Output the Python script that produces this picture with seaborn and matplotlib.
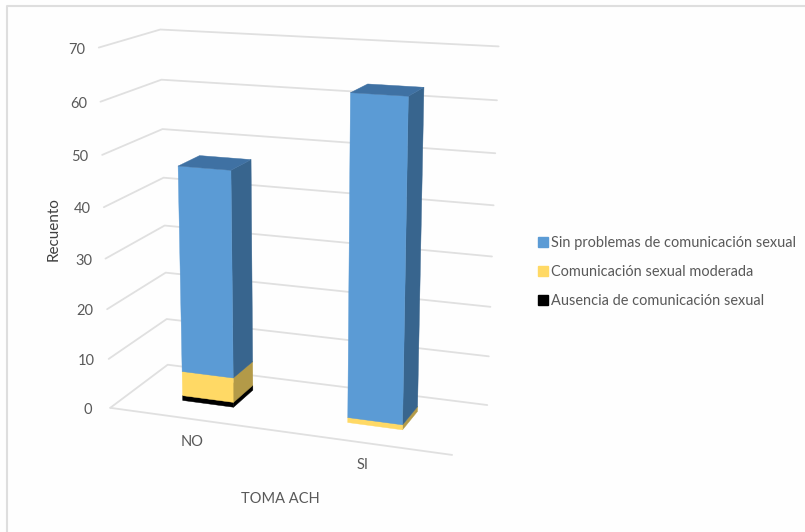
import matplotlib
matplotlib.use("Agg")
import matplotlib.pyplot as plt
from matplotlib.lines import Line2D
from matplotlib.patches import Patch
from mpl_toolkits.mplot3d import proj3d
import numpy as np
import seaborn as sns

# Counts per category, stacked from the floor upwards
categories = ["NO", "SI"]
ausencia = [1, 0]
moderada = [5, 1]
sin_problemas = [41, 62]

series_names = [
    "Sin problemas de comunicación sexual",
    "Comunicación sexual moderada",
    "Ausencia de comunicación sexual",
]
z_ticks = [0, 10, 20, 30, 40, 50, 60, 70]
z_max = 70

# front, side and top shades of each series
BLUE = ("#5b9bd5", "#38658e", "#3f71a3")
YELLOW = ("#ffd965", "#b39a48", "#cfae50")
BLACK = ("#000000", "#000000", "#000000")
TEXT = "#595959"
GRID = "#e0e0e0"

W, H = 805, 532
sns.set_theme(style="white")
plt.rcParams["font.family"] = ["Lato", "DejaVu Sans"]

fig = plt.figure(figsize=(W / 100, H / 100), dpi=100, facecolor="#fefefe")
ax = fig.add_axes([0, 0, 1, 1], projection="3d", computed_zorder=False)
ax.set_xlim(0, 1)
ax.set_ylim(0, 1)
ax.set_zlim(0, z_max)
ax.set_axis_off()
ax.patch.set_alpha(0)

# Camera and placement of the chart box on the canvas
ax.view_init(elev=14.7273, azim=-69.8789)
ax.set_proj_type("persp", focal_length=0.5684)
ax.set_box_aspect((0.974, 0.3797, 1), zoom=1)
scale, cx, cy = 2818.91, 299.1917, 232.0004
vl = ax.viewLim
side = scale * vl.width
left = cx + vl.x0 * scale
top = cy - vl.y1 * scale
ax.set_position([left / W, (H - top - side) / H, side / W, side / H])

# Back and side walls carry the gridlines, the floor closes at the front
for z in z_ticks:
    ax.plot([0, 0, 1], [0, 1, 1], [z, z, z], color=GRID, lw=1.3, zorder=1)
ax.plot([0, 1], [0, 0], [0, 0], color=GRID, lw=1.3, zorder=1)


def draw_segment(x, base, height, shades, order):
    """One box of a stack; only the faces turned to the camera are painted."""
    none = (0, 0, 0, 0)
    front, side_face, top_face = shades
    faces = [none, top_face, front, none, none, side_face]
    ax.bar3d(x, 0.32, base, 0.158, 0.38, height, color=faces, shade=False,
             edgecolor=faces, linewidth=0.3, zorder=order)


centers = [0.25, 0.75]
for xc, a, m, s in zip(centers, ausencia, moderada, sin_problemas):
    x0 = xc - 0.081
    base = 0
    for value, shades, order in [(a, BLACK, 2), (m, YELLOW, 3), (s, BLUE, 4)]:
        if value:
            draw_segment(x0, base, value, shades, order)
            base += value


def screen_anchor(x, y, z):
    px, py, _ = proj3d.proj_transform(x, y, z, ax.get_proj())
    return px, py


for z in z_ticks:
    ax.annotate(str(z), xy=screen_anchor(0, 0, z), xycoords="data",
                xytext=(-22, -2), textcoords="offset pixels", ha="center",
                va="center", fontsize=10.5, color=TEXT, annotation_clip=False)
for xc, label in zip(centers, categories):
    ax.annotate(label, xy=screen_anchor(xc, 0, 0), xycoords="data",
                xytext=(1, -23), textcoords="offset pixels", ha="center",
                va="center", fontsize=10.5, color=TEXT, annotation_clip=False)

fig.text(280.5 / W, 1 - 499 / H, "TOMA ACH", ha="center", va="center",
         fontsize=10.5, color=TEXT)
fig.text(54 / W, 1 - 229.5 / H, "Recuento", ha="center", va="center",
         rotation=90, fontsize=11, color="#404040")

handles = [Patch(color=BLUE[0]), Patch(color=YELLOW[0]), Patch(color=BLACK[0])]
fig.legend(handles, series_names, loc="center left",
           bbox_to_anchor=(538 / W, 1 - 272 / H), frameon=False, fontsize=10.45,
           labelcolor=TEXT, handlelength=0.68, handleheight=0.68,
           handletextpad=0.2, labelspacing=1.05, borderpad=0, borderaxespad=0)

# Thin frame visible along the left and top of the canvas
fig.add_artist(Line2D([7 / W, 7 / W, 1], [0, 1 - 6 / H, 1 - 6 / H],
                      color="#dedede", lw=1.5))

fig.savefig("out.png", dpi=100, facecolor=fig.get_facecolor())
